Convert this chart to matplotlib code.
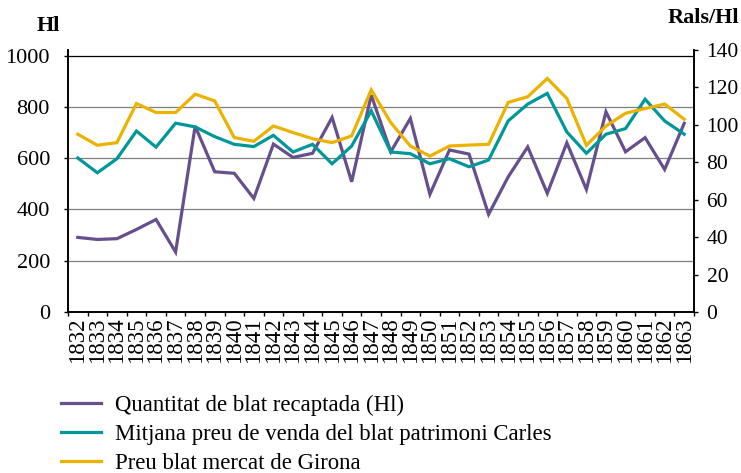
import numpy as np
import matplotlib.pyplot as plt
from matplotlib.lines import Line2D

years = list(range(1832, 1864))
quantitat = [291, 283, 286, 322, 361, 234, 725, 547, 541, 443, 655, 603, 619, 759, 508, 846,
             625, 755, 459, 632, 616, 381, 527, 644, 463, 660, 478, 781, 625, 680, 556, 736]
preu_carles = [82.3, 74.4, 81.9, 96.7, 88.1, 100.9, 98.9, 93.7, 89.6, 88.4, 94.4, 85.5, 89.6, 79.2, 88.7, 107.5,
               85.5, 84.6, 79.2, 81.9, 77.6, 81.2, 102.1, 111.1, 116.8, 96.2, 84.8, 95.0, 98.0, 113.7, 102.1, 95.0]
preu_girona = [95.0, 89.1, 90.5, 111.4, 106.6, 106.6, 116.4, 112.8, 93.2, 91.2, 99.4, 95.9, 92.6, 90.5, 94.1, 118.7,
               101.2, 88.7, 83.3, 88.7, 89.2, 89.6, 112.0, 115.0, 124.8, 114.1, 89.1, 99.4, 106.2, 108.7, 111.1, 103.0]
labels = ['Quantitat de blat recaptada (Hl)',
          'Mitjana preu de venda del blat patrimoni Carles',
          'Preu blat mercat de Girona']

purple = '#654f8d'
teal = '#00979a'
yellow = '#ebb300'

plt.rcParams['font.family'] = ['Liberation Serif', 'DejaVu Serif']

fig = plt.figure(figsize=(7.41, 4.73), dpi=100)
ax = fig.add_axes([68 / 741, 1 - 312 / 473, 626 / 741, 262 / 473])
ax2 = ax.twinx()

x = np.arange(len(years))
ax.plot(x, quantitat, color=purple, lw=2.3, solid_joinstyle='miter')
ax2.plot(x, preu_carles, color=teal, lw=2.3, solid_joinstyle='miter')
ax2.plot(x, preu_girona, color=yellow, lw=2.3, solid_joinstyle='miter')

ax.set_xlim(-0.5, len(years) - 0.5)
ax.set_ylim(0, 1022)
ax2.set_ylim(0, 140)
ax.set_yticks(range(0, 1001, 200))
ax2.set_yticks(range(0, 141, 20))

for v in range(200, 1001, 200):
    ax.axhline(v, color='black' if v == 1000 else '#7f7f7f', lw=0.9, zorder=0)

ax.set_xticks(x)
ax.set_xticklabels([str(y) for y in years], rotation=90, fontsize=16.5)
ax.set_xticks(np.arange(-0.5, len(years)), minor=True)
ax.tick_params(axis='x', which='major', length=0, pad=4)
ax.tick_params(axis='x', which='minor', length=3, width=1)
ax.tick_params(axis='y', length=3, width=1, labelsize=16, pad=10)
ax2.tick_params(axis='y', length=3, width=1, labelsize=15.5, pad=6)

for a in (ax, ax2):
    a.spines['top'].set_visible(False)
    for s in ('left', 'right', 'bottom'):
        a.spines[s].set_linewidth(1.2)

fig.text(37 / 741, 1 - 26 / 473, 'Hl', fontsize=16, fontweight='bold', va='center', ha='left')
fig.text(739 / 741, 1 - 18 / 473, 'Rals/Hl', fontsize=16, fontweight='bold', va='center', ha='right')

handles = [Line2D([], [], color=c, lw=2.3) for c in (purple, teal, yellow)]
fig.legend(handles, labels, loc='upper left', bbox_to_anchor=(61 / 741, 1 - 395 / 473),
           frameon=False, fontsize=16.4, handlelength=1.75, handletextpad=0.6,
           labelspacing=0.35, borderaxespad=0, borderpad=0)

fig.savefig('out.png', dpi=100)
